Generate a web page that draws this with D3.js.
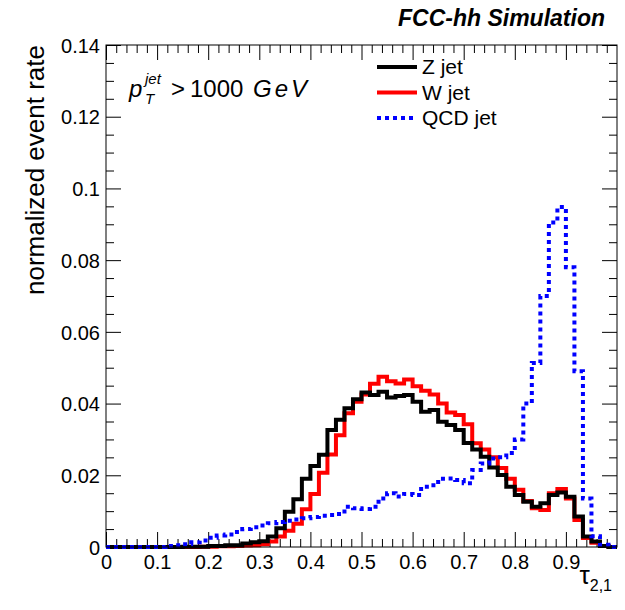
<!DOCTYPE html>
<html>
<head>
<meta charset="utf-8">
<script src="https://cdn.jsdelivr.net/npm/d3@7"></script>
<style>
  body { margin: 0; background: #fff; }
  svg { display: block; font-family: "Liberation Sans", Arial, Helvetica, sans-serif; }
</style>
</head>
<body>
<svg id="chart" width="625" height="610"></svg>
<script>
// ---- data (60 bins over tau21 in [0,1]) ----
const nBins = 60;
const seriesNames = ["Z jet", "W jet", "QCD jet"];
const zJet = [0,0,0,0,0,0,0,0,0,0.0001,0.0001,0.0001,0.0003,0.0003,0.0005,0.0005,
  0.0010,0.0013,0.0016,0.0029,0.0052,0.0098,0.0133,0.0190,0.0226,0.0257,0.0326,0.0355,
  0.0387,0.0412,0.0431,0.0424,0.0433,0.0417,0.0421,0.0424,0.0405,0.0377,0.0382,0.0349,
  0.0340,0.0326,0.0290,0.0272,0.0252,0.0222,0.0201,0.0168,0.0145,0.0126,0.0112,0.0122,
  0.0145,0.0152,0.0140,0.0085,0.0029,0.0015,0.0003,0];
const wJet = [0,0,0,0,0,0,0,0,0,0,0,0.0001,0.0001,0.0002,0.0002,0.0003,
  0.0004,0.0005,0.0008,0.0015,0.0029,0.0045,0.0065,0.0105,0.0148,0.0207,0.0258,0.0312,
  0.0373,0.0405,0.0425,0.0455,0.0475,0.0462,0.0456,0.0467,0.0448,0.0436,0.0425,0.0400,
  0.0375,0.0368,0.0342,0.0289,0.0272,0.0250,0.0220,0.0190,0.0160,0.0128,0.0108,0.0103,
  0.0150,0.0162,0.0135,0.0075,0.0025,0.0012,0.0003,0];
const qcdJet = [0,0,0,0,0,0,0,0.0003,0.0005,0.0008,0.0013,0.0018,0.0026,0.0032,0.0035,0.0042,
  0.0050,0.0055,0.0060,0.0066,0.0070,0.0073,0.0077,0.0080,0.0084,0.0087,0.0089,0.0092,
  0.0112,0.0108,0.0106,0.0112,0.0135,0.0150,0.0141,0.0148,0.0145,0.0168,0.0172,0.0190,
  0.0191,0.0187,0.0178,0.0215,0.0233,0.0247,0.0250,0.0262,0.0300,0.0400,0.0513,0.0700,
  0.0905,0.0948,0.0780,0.0490,0.0135,0.0030,0.0006,0];
const xTicks = [0,0.1,0.2,0.3,0.4,0.5,0.6,0.7,0.8,0.9];
const xTickLabels = ["0","0.1","0.2","0.3","0.4","0.5","0.6","0.7","0.8","0.9"];
const yTicks = [0,0.02,0.04,0.06,0.08,0.1,0.12,0.14];
const yTickLabels = ["0","0.02","0.04","0.06","0.08","0.1","0.12","0.14"];

// ---- layout ----
const svg = d3.select("#chart");
const L = 106, R = 617, T = 45, B = 547;
const x = d3.scaleLinear().domain([0, 1]).range([L, R]);
const y = d3.scaleLinear().domain([0, 0.14]).range([B, T]);

const xMinor = d3.range(0, 1.0001, 0.02).filter(v => Math.abs(v*10 - Math.round(v*10)) > 1e-6);
const yMinor = d3.range(0, 0.14001, 0.005).filter(v => Math.abs(v*50 - Math.round(v*50)) > 1e-6);

function styleAxis(g) {
  g.select(".domain").remove();
  g.selectAll(".tick line").attr("stroke", "#000").attr("stroke-width", 1);
}
// bottom
svg.append("g").attr("transform", `translate(0,${B})`)
  .call(d3.axisBottom(x).tickValues(xTicks).tickSize(-15)
    .tickFormat((d,i) => xTickLabels[i]).tickPadding(22))
  .call(styleAxis)
  .call(g => g.selectAll("text").attr("font-size", 20).attr("fill", "#000")
     .attr("font-family", "Liberation Sans, Arial, sans-serif").attr("dy", "0"));
svg.append("g").attr("transform", `translate(0,${B})`)
  .call(d3.axisBottom(x).tickValues(xMinor).tickSize(-8).tickFormat(""))
  .call(styleAxis);
// top
svg.append("g").attr("transform", `translate(0,${T})`)
  .call(d3.axisTop(x).tickValues(xTicks).tickSize(-15).tickFormat(""))
  .call(styleAxis);
svg.append("g").attr("transform", `translate(0,${T})`)
  .call(d3.axisTop(x).tickValues(xMinor).tickSize(-8).tickFormat(""))
  .call(styleAxis);
// left
svg.append("g").attr("transform", `translate(${L},0)`)
  .call(d3.axisLeft(y).tickValues(yTicks).tickSize(-15)
    .tickFormat((d,i) => yTickLabels[i]).tickPadding(6))
  .call(styleAxis)
  .call(g => g.selectAll("text").attr("font-size", 20).attr("fill", "#000")
     .attr("font-family", "Liberation Sans, Arial, sans-serif")
     .attr("dy", "0.36em"));
svg.append("g").attr("transform", `translate(${L},0)`)
  .call(d3.axisLeft(y).tickValues(yMinor).tickSize(-8).tickFormat(""))
  .call(styleAxis);
// right
svg.append("g").attr("transform", `translate(${R},0)`)
  .call(d3.axisRight(y).tickValues(yTicks).tickSize(-15).tickFormat(""))
  .call(styleAxis);
svg.append("g").attr("transform", `translate(${R},0)`)
  .call(d3.axisRight(y).tickValues(yMinor).tickSize(-8).tickFormat(""))
  .call(styleAxis);

// ---- histograms ----
function stepPoints(vals) {
  const pts = vals.map((v, i) => [i / nBins, v]);
  pts.push([1, vals[vals.length - 1]]);
  return pts;
}
const line = d3.line().x(d => x(d[0])).y(d => y(d[1])).curve(d3.curveStepAfter);
const plot = svg.append("g");
plot.append("path").attr("d", line(stepPoints(wJet)))
  .attr("fill", "none").attr("stroke", "#ff0000").attr("stroke-width", 4);
plot.append("path").attr("d", line(stepPoints(zJet)))
  .attr("fill", "none").attr("stroke", "#000000").attr("stroke-width", 4);
plot.append("path").attr("d", line(stepPoints(qcdJet)))
  .attr("fill", "none").attr("stroke", "#0000ff").attr("stroke-width", 4)
  .attr("stroke-dasharray", "4 4");

// frame
svg.append("rect").attr("x", L).attr("y", T).attr("width", R - L).attr("height", B - T)
  .attr("fill", "none").attr("stroke", "#000").attr("stroke-width", 1);

// ---- legend ----
const legColors = ["#000000", "#ff0000", "#0000ff"];
const legDash = [null, null, "4 4"];
seriesNames.forEach((n, i) => {
  const yy = 67 + i * 25.5;
  svg.append("line").attr("x1", 377).attr("x2", 417).attr("y1", yy).attr("y2", yy)
    .attr("stroke", legColors[i]).attr("stroke-width", 4)
    .attr("stroke-dasharray", legDash[i]);
  svg.append("text").attr("x", 422).attr("y", yy + 7).attr("font-size", 21)
    .attr("fill", "#000").text(n);
});

// ---- texts ----
svg.append("text").attr("x", 605).attr("y", 26).attr("text-anchor", "end")
  .attr("font-size", 23).attr("font-weight", "bold").attr("font-style", "italic")
  .text("FCC-hh Simulation");

svg.append("text").attr("transform", "translate(44,45) rotate(-90)")
  .attr("text-anchor", "end").attr("font-size", 26).text("normalized event rate");

const pt = svg.append("text").attr("x", 129).attr("y", 97).attr("font-size", 24);
pt.append("tspan").attr("font-style", "italic").text("p");
pt.append("tspan").attr("font-style", "italic").attr("font-size", 15).attr("x", 145).attr("dy", -13).text("jet");
pt.append("tspan").attr("font-style", "italic").attr("font-size", 15).attr("x", 145).attr("dy", 20).text("T");
pt.append("tspan").attr("x", 171).attr("dy", -7).text(">");
pt.append("tspan").attr("x", 190).text("1000");
pt.append("tspan").attr("x", 253).attr("font-style", "italic").attr("letter-spacing", 3).text("GeV");

const xt = svg.append("text").attr("x", 612).attr("y", 584).attr("text-anchor", "end").attr("font-size", 26);
xt.append("tspan").text("τ");
xt.append("tspan").attr("font-size", 16).attr("dy", 7).text("2,1");
</script>
</body>
</html>
